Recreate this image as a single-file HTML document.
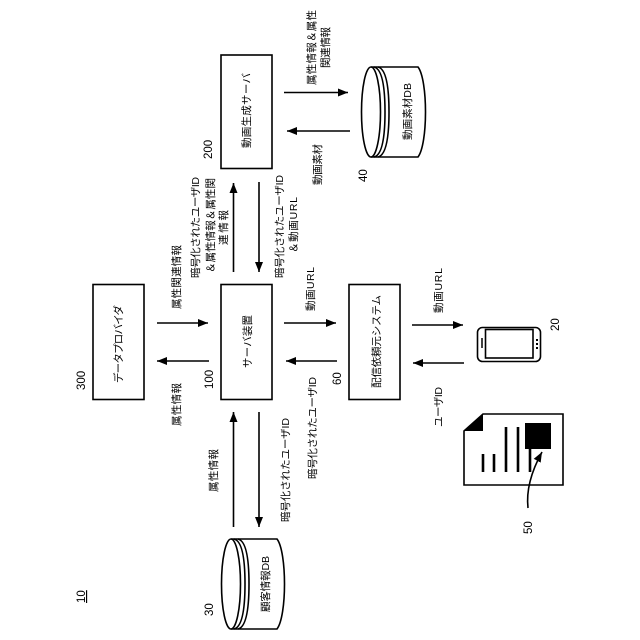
<!DOCTYPE html>
<html lang="ja"><head><meta charset="utf-8"><title>Diagram</title>
<style>
html,body{margin:0;padding:0;background:#fff}
svg{display:block}
text{font-family:"Liberation Sans","Noto Sans CJK JP",sans-serif;font-size:10.5px;fill:#000}
.n{font-size:11.5px}
.s{fill:none;stroke:#000;stroke-width:1.6}
.b{fill:#fff;stroke:#000;stroke-width:1.6}
</style></head><body>
<svg width="640" height="640" viewBox="0 0 640 640" xmlns="http://www.w3.org/2000/svg">
<defs><marker id="a" markerUnits="userSpaceOnUse" markerWidth="10" markerHeight="8" refX="10" refY="4" orient="auto"><path d="M0 0L10 4L0 8Z" fill="#000"/></marker></defs>

<rect class="b" x="221" y="55" width="51" height="113.500"/>
<rect class="b" x="221" y="284.500" width="51" height="115"/>
<rect class="b" x="93" y="284.500" width="51" height="115"/>
<rect class="b" x="349" y="284.500" width="51" height="115"/>

<path class="s" d="M284 92.500H348" marker-end="url(#a)"/>
<path class="s" d="M350 131H287" marker-end="url(#a)"/>
<path class="s" d="M233.500 272V183" marker-end="url(#a)"/>
<path class="s" d="M259 182V272" marker-end="url(#a)"/>
<path class="s" d="M157 323H208" marker-end="url(#a)"/>
<path class="s" d="M209 361H157" marker-end="url(#a)"/>
<path class="s" d="M284 323H336" marker-end="url(#a)"/>
<path class="s" d="M337 361H286" marker-end="url(#a)"/>
<path class="s" d="M412 325H463" marker-end="url(#a)"/>
<path class="s" d="M464 363H413" marker-end="url(#a)"/>
<path class="s" d="M233.500 527V412" marker-end="url(#a)"/>
<path class="s" d="M259 412V527" marker-end="url(#a)"/>

<!-- cylinder 40 -->
<g class="s">
<ellipse cx="371" cy="112" rx="9.500" ry="45"/>
<path d="M371 67H418C428 80 428 144 418 157H371"/>
<path d="M374 67C383 69 385 90 385 112S383 155 374 157"/>
<path d="M378 67C387 69 389 90 389 112S387 155 378 157"/>
</g>
<!-- cylinder 30 -->
<g class="s">
<ellipse cx="231" cy="584" rx="9.500" ry="45"/>
<path d="M231 539H277C287 552 287 616 277 629H231"/>
<path d="M234 539C243 541 245 562 245 584S243 627 234 629"/>
<path d="M238 539C247 541 249 562 249 584S247 627 238 629"/>
</g>

<!-- phone -->
<rect class="s" x="477.500" y="327.500" width="63" height="34" rx="5"/>
<rect class="s" x="485.500" y="329.500" width="47.500" height="28.500"/>
<path d="M482 338V348" stroke="#000" stroke-width="1.500"/>
<rect x="536" y="339" width="2" height="2"/><rect x="536" y="343" width="2" height="2"/><rect x="536" y="347" width="2" height="2"/>

<!-- document -->
<path class="s" d="M464 431L483 414H563V485H464Z"/>
<path d="M464 431L483 414V431Z"/>
<rect x="525" y="423" width="26" height="26"/>
<path d="M483 454V472M494 454V472M506 427V472M518 427V472M530 449V472" stroke="#000" stroke-width="2.600" fill="none"/>
<path class="s" d="M528 508C526 490 531 472 542 452" marker-end="url(#a)"/>

<!-- labels -->
<text transform="translate(250,148) rotate(-90)" textLength="75">動画生成サーバ</text>
<text transform="translate(411,140) rotate(-90)" textLength="57">動画素材DB</text>
<text transform="translate(315,85) rotate(-90)" textLength="75">属性情報＆属性</text>
<text transform="translate(329,68) rotate(-90)" textLength="41">関連情報</text>
<text transform="translate(321,185) rotate(-90)" textLength="41">動画素材</text>
<text transform="translate(199,278) rotate(-90)" textLength="101">暗号化されたユーザID</text>
<text transform="translate(214,273) rotate(-90)" textLength="95">＆属性情報＆属性関</text>
<text transform="translate(227,245) rotate(-90)" textLength="35">連情報</text>
<text transform="translate(283,278) rotate(-90)" textLength="103">暗号化されたユーザID</text>
<text transform="translate(297,253) rotate(-90)" textLength="56">＆動画URL</text>
<text transform="translate(180,309) rotate(-90)" textLength="64">属性関連情報</text>
<text transform="translate(122,383) rotate(-90)" textLength="78">データプロバイダ</text>
<text transform="translate(251,368) rotate(-90)" textLength="53">サーバ装置</text>
<text transform="translate(314,311) rotate(-90)" textLength="44">動画URL</text>
<text transform="translate(180,426) rotate(-90)" textLength="43">属性情報</text>
<text transform="translate(316,479) rotate(-90)" textLength="102">暗号化されたユーザID</text>
<text transform="translate(289,522) rotate(-90)" textLength="104">暗号化されたユーザID</text>
<text transform="translate(217,492) rotate(-90)" textLength="43">属性情報</text>
<text transform="translate(269,612) rotate(-90)" textLength="56">顧客情報DB</text>
<text transform="translate(380,388) rotate(-90)" textLength="93">配信依頼元システム</text>
<text transform="translate(442,313) rotate(-90)" textLength="45">動画URL</text>
<text transform="translate(442,427) rotate(-90)" textLength="40">ユーザID</text>

<text class="n" transform="translate(367,182) rotate(-90)">40</text>
<text class="n" transform="translate(212,159) rotate(-90)">200</text>
<text class="n" transform="translate(85,390) rotate(-90)">300</text>
<text class="n" transform="translate(213,389) rotate(-90)">100</text>
<text class="n" transform="translate(341,385) rotate(-90)">60</text>
<text class="n" transform="translate(213,616) rotate(-90)">30</text>
<text class="n" transform="translate(85,603) rotate(-90)" text-decoration="underline">10</text>
<text class="n" transform="translate(559,331) rotate(-90)">20</text>
<text class="n" transform="translate(532,534) rotate(-90)">50</text>
</svg>
</body></html>
